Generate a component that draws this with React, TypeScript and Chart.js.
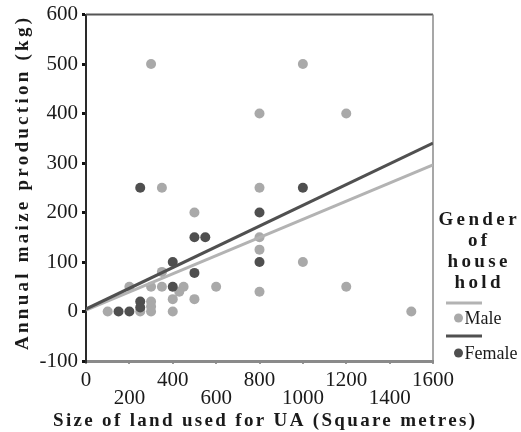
import React, { useEffect, useRef } from 'react';
import { Chart, registerables } from 'chart.js';
Chart.register(...registerables);

// Male households (land size m², maize kg)
const maleX = [300, 1000, 800, 1200, 350, 800, 500, 800, 800, 1000, 1200, 1500, 350, 200, 300, 350, 450, 600, 430, 800, 400, 500, 300, 300, 300, 250, 100, 400];
const maleY = [500, 500, 400, 400, 250, 250, 200, 150, 125, 100, 50, 0, 80, 50, 50, 50, 50, 50, 40, 40, 25, 25, 20, 10, 0, 0, 0, 0];
// Female households
const femaleX = [250, 1000, 800, 500, 550, 800, 400, 500, 400, 150, 200, 250, 250];
const femaleY = [250, 250, 200, 150, 150, 100, 100, 78, 50, 0, 0, 20, 8];
// Fit lines (endpoints)
const maleFitX = [0, 1600];
const maleFitY = [3, 296];
const femaleFitX = [0, 1600];
const femaleFitY = [5, 340];

const xTickValues = [0, 200, 400, 600, 800, 1000, 1200, 1400, 1600];
const yTickValues = [-100, 0, 100, 200, 300, 400, 500, 600];

const xTitle = 'Size of land used for UA (Square metres)';
const yTitle = 'Annual maize production (kg)';
const legendTitle = ['Gender', 'of', 'house', 'hold'];
const legendLabels = ['Male', 'Female'];

const MALE_PT = '#a9a9a9';
const FEMALE_PT = '#4f4f4f';
const MALE_LINE = '#b3b3b3';
const FEMALE_LINE = '#505050';

const SERIF = '"Liberation Serif", "Times New Roman", Times, serif';

function zip(xs: number[], ys: number[]) {
  return xs.map((x, i) => ({ x, y: ys[i] }));
}

function spacedLeft(ctx: CanvasRenderingContext2D, text: string, left: number, y: number, target: number) {
  (ctx as any).letterSpacing = '0px';
  const w = ctx.measureText(text).width;
  const n = text.length;
  const ls = n > 1 ? (target - w) / (n - 1) : 0;
  (ctx as any).letterSpacing = ls + 'px';
  ctx.textAlign = 'left';
  ctx.fillText(text, left, y);
  (ctx as any).letterSpacing = '0px';
}

function spacedCenter(ctx: CanvasRenderingContext2D, text: string, cx: number, y: number, ls: number) {
  (ctx as any).letterSpacing = ls + 'px';
  const w = ctx.measureText(text).width - ls;
  ctx.textAlign = 'left';
  ctx.fillText(text, cx - w / 2, y);
  (ctx as any).letterSpacing = '0px';
}

const decor = {
  id: 'decor',
  beforeDatasetsDraw(chart: any) {
    const { ctx, chartArea: a } = chart;
    ctx.save();
    ctx.strokeStyle = '#555';
    ctx.lineWidth = 2;
    ctx.beginPath();
    ctx.moveTo(a.left, a.top);
    ctx.lineTo(a.right, a.top);
    ctx.stroke();
    ctx.strokeStyle = '#8a8a8a';
    ctx.lineWidth = 1.5;
    ctx.beginPath();
    ctx.moveTo(a.right, a.top);
    ctx.lineTo(a.right, a.bottom);
    ctx.stroke();
    ctx.restore();
  },
  afterDraw(chart: any) {
    const { ctx } = chart;
    ctx.save();
    ctx.fillStyle = '#1a1a1a';
    ctx.textBaseline = 'alphabetic';
    // x title
    ctx.font = 'bold 19px ' + SERIF;
    spacedLeft(ctx, xTitle, 53, 426, 422);
    // y title
    ctx.save();
    ctx.translate(27.5, 184);
    ctx.rotate(-Math.PI / 2);
    spacedLeft(ctx, yTitle, -166, 0, 332);
    ctx.restore();
    // legend title
    ctx.font = 'bold 19px ' + SERIF;
    ctx.textBaseline = 'middle';
    const ty = [220, 241, 262, 283];
    legendTitle.forEach((t, i) => spacedCenter(ctx, t, 477.5, ty[i], 3.4));
    // legend entries
    const rows = [
      { line: MALE_LINE, pt: MALE_PT, ly: 303, py: 318 },
      { line: FEMALE_LINE, pt: FEMALE_PT, ly: 336, py: 353 },
    ];
    rows.forEach((r, i) => {
      ctx.strokeStyle = r.line;
      ctx.lineWidth = 3;
      ctx.beginPath();
      ctx.moveTo(446, r.ly);
      ctx.lineTo(482, r.ly);
      ctx.stroke();
      ctx.fillStyle = r.pt;
      ctx.beginPath();
      ctx.arc(458.5, r.py, 4.5, 0, Math.PI * 2);
      ctx.fill();
      ctx.fillStyle = '#1a1a1a';
      ctx.font = '18px ' + SERIF;
      ctx.textAlign = 'left';
      ctx.textBaseline = 'middle';
      ctx.fillText(legendLabels[i], 464.5, r.py + 1);
    });
    ctx.restore();
  },
};

export default function App() {
  const ref = useRef<HTMLCanvasElement>(null);
  useEffect(() => {
    document.body.style.margin = '0';
    const canvas = ref.current;
    if (!canvas) return;
    let chart: Chart | null = null;
    let cancelled = false;
    const build = () => {
      if (cancelled) return;
      chart = new Chart(canvas, {
        type: 'scatter',
        data: {
          datasets: [
            {
              type: 'line',
              label: 'Female fit',
              data: zip(femaleFitX, femaleFitY),
              borderColor: FEMALE_LINE,
              borderWidth: 3,
              pointRadius: 0,
              fill: false,
              order: 0,
            } as any,
            {
              type: 'line',
              label: 'Male fit',
              data: zip(maleFitX, maleFitY),
              borderColor: MALE_LINE,
              borderWidth: 3,
              pointRadius: 0,
              fill: false,
              order: 1,
            } as any,
            {
              label: 'Female',
              data: zip(femaleX, femaleY),
              backgroundColor: FEMALE_PT,
              borderWidth: 0,
              pointRadius: 5,
              order: 2,
            },
            {
              label: 'Male',
              data: zip(maleX, maleY),
              backgroundColor: MALE_PT,
              borderWidth: 0,
              pointRadius: 5,
              order: 3,
            },
          ],
        },
        options: {
          responsive: false,
          animation: false,
          font: { family: SERIF },
          layout: { padding: { left: 0, top: 13, right: 88, bottom: 0 } },
          plugins: { legend: { display: false }, tooltip: { enabled: false } },
          scales: {
            x: {
              type: 'linear',
              min: 0,
              max: 1600,
              afterBuildTicks: (s: any) => {
                s.ticks = xTickValues.map((v) => ({ value: v }));
              },
              afterFit: (s: any) => {
                s.height = 71;
              },
              ticks: {
                autoSkip: false,
                maxRotation: 0,
                padding: 7,
                color: '#1a1a1a',
                font: { family: SERIF, size: 21, lineHeight: 0.86 },
                callback: (v: any) => (Number(v) % 400 === 0 ? String(v) : ['', String(v)]),
              },
              grid: { drawOnChartArea: false, drawTicks: true, tickLength: 3, color: '#999', lineWidth: 2 },
              border: { display: true, color: '#8a8a8a', width: 3 },
            },
            y: {
              type: 'linear',
              min: -100,
              max: 600,
              afterBuildTicks: (s: any) => {
                s.ticks = yTickValues.map((v) => ({ value: v }));
              },
              afterFit: (s: any) => {
                s.width = 86;
              },
              ticks: {
                padding: 4,
                color: '#1a1a1a',
                font: { family: SERIF, size: 21, lineHeight: 1 },
              },
              grid: { drawOnChartArea: false, drawTicks: true, tickLength: 4, color: '#111', lineWidth: 3 },
              border: { display: true, color: '#2a2a2a', width: 2 },
            },
          },
        } as any,
        plugins: [decor],
      });
    };
    const fonts = (document as any).fonts;
    if (fonts && fonts.load) {
      Promise.all([
        fonts.load('20px "Liberation Serif"'),
        fonts.load('bold 19px "Liberation Serif"'),
      ]).then(build, build);
    } else {
      build();
    }
    return () => {
      cancelled = true;
      if (chart) chart.destroy();
    };
  }, []);
  return (
    <div style={{ width: 521, height: 432 }}>
      <canvas ref={ref} width={521} height={432} style={{ display: 'block' }} />
    </div>
  );
}
